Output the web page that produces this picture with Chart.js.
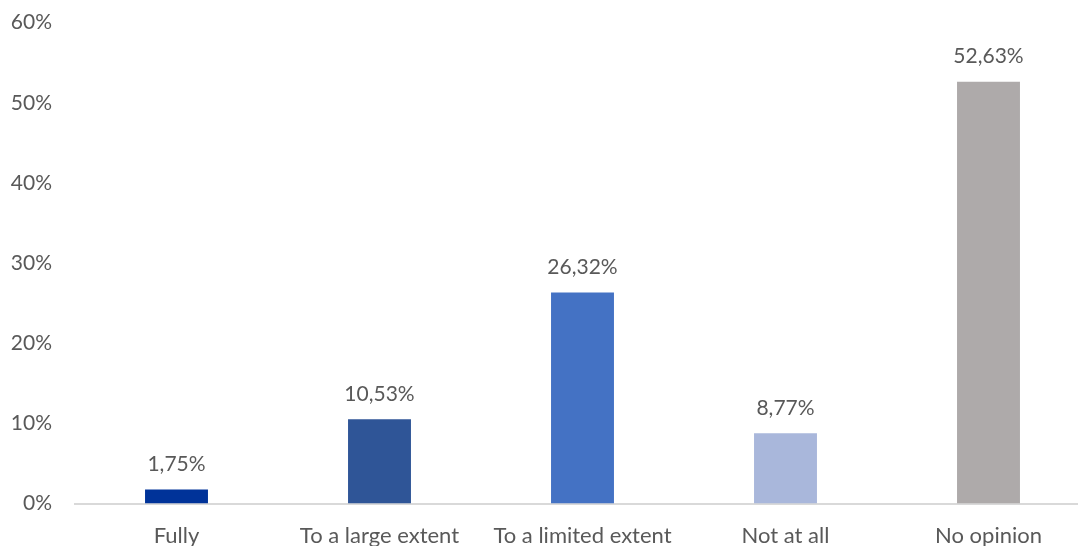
<!DOCTYPE html>
<html>
<head>
<meta charset="utf-8">
<script src="https://cdn.jsdelivr.net/npm/chart.js@4/dist/chart.umd.min.js"></script>
<style>
html,body{margin:0;padding:0;background:#fff;overflow:hidden;width:1078px;height:546px;}
#wrap{position:absolute;left:0;top:-13px;width:1092px;height:581px;}
</style>
</head>
<body>
<div id="wrap"><canvas id="c"></canvas></div>
<script>
const categories = ["Fully", "To a large extent", "To a limited extent", "Not at all", "No opinion"];
const values = [1.75, 10.53, 26.32, 8.77, 52.63];
const barColors = ["#003399", "#2F5597", "#4472C4", "#A9B7DB", "#AEAAAA"];
const yTicks = [0, 10, 20, 30, 40, 50, 60];

const FONT = 'Lato, "Open Sans", sans-serif';

const labelPlugin = {
  id: 'valueLabels',
  afterDatasetsDraw(chart) {
    const ctx = chart.ctx;
    const meta = chart.getDatasetMeta(0);
    ctx.save();
    ctx.font = '21px ' + FONT;
    ctx.fillStyle = '#595959';
    ctx.textAlign = 'center';
    ctx.textBaseline = 'middle';
    meta.data.forEach((bar, i) => {
      const txt = values[i].toFixed(2).replace('.', ',') + '%';
      ctx.fillText(txt, bar.x, bar.y - 25);
    });
    ctx.restore();
  }
};

new Chart(document.getElementById('c'), {
  type: 'bar',
  data: {
    labels: categories,
    datasets: [{
      data: values,
      backgroundColor: barColors,
      barPercentage: 0.31,
      categoryPercentage: 1.0
    }]
  },
  plugins: [labelPlugin],
  options: {
    responsive: true,
    maintainAspectRatio: false,
    animation: false,
    layout: { padding: { top: 9, right: 2, left: 0, bottom: 0 } },
    plugins: { legend: { display: false }, tooltip: { enabled: false } },
    scales: {
      x: {
        grid: { display: false, drawTicks: false },
        border: { display: true, color: '#D9D9D9', width: 2 },
        ticks: { color: '#595959', font: { family: FONT, size: 22 }, padding: 19, maxRotation: 0 }
      },
      y: {
        min: 0, max: 60,
        afterBuildTicks(scale) { scale.ticks = yTicks.map(v => ({ value: v })); },
        afterFit(scale) { scale.width = 75; },
        grid: { display: false, drawTicks: false },
        border: { display: false },
        ticks: { color: '#595959', font: { family: FONT, size: 21 }, padding: 23, callback: v => v + '%' }
      }
    }
  }
});
</script>
</body>
</html>
